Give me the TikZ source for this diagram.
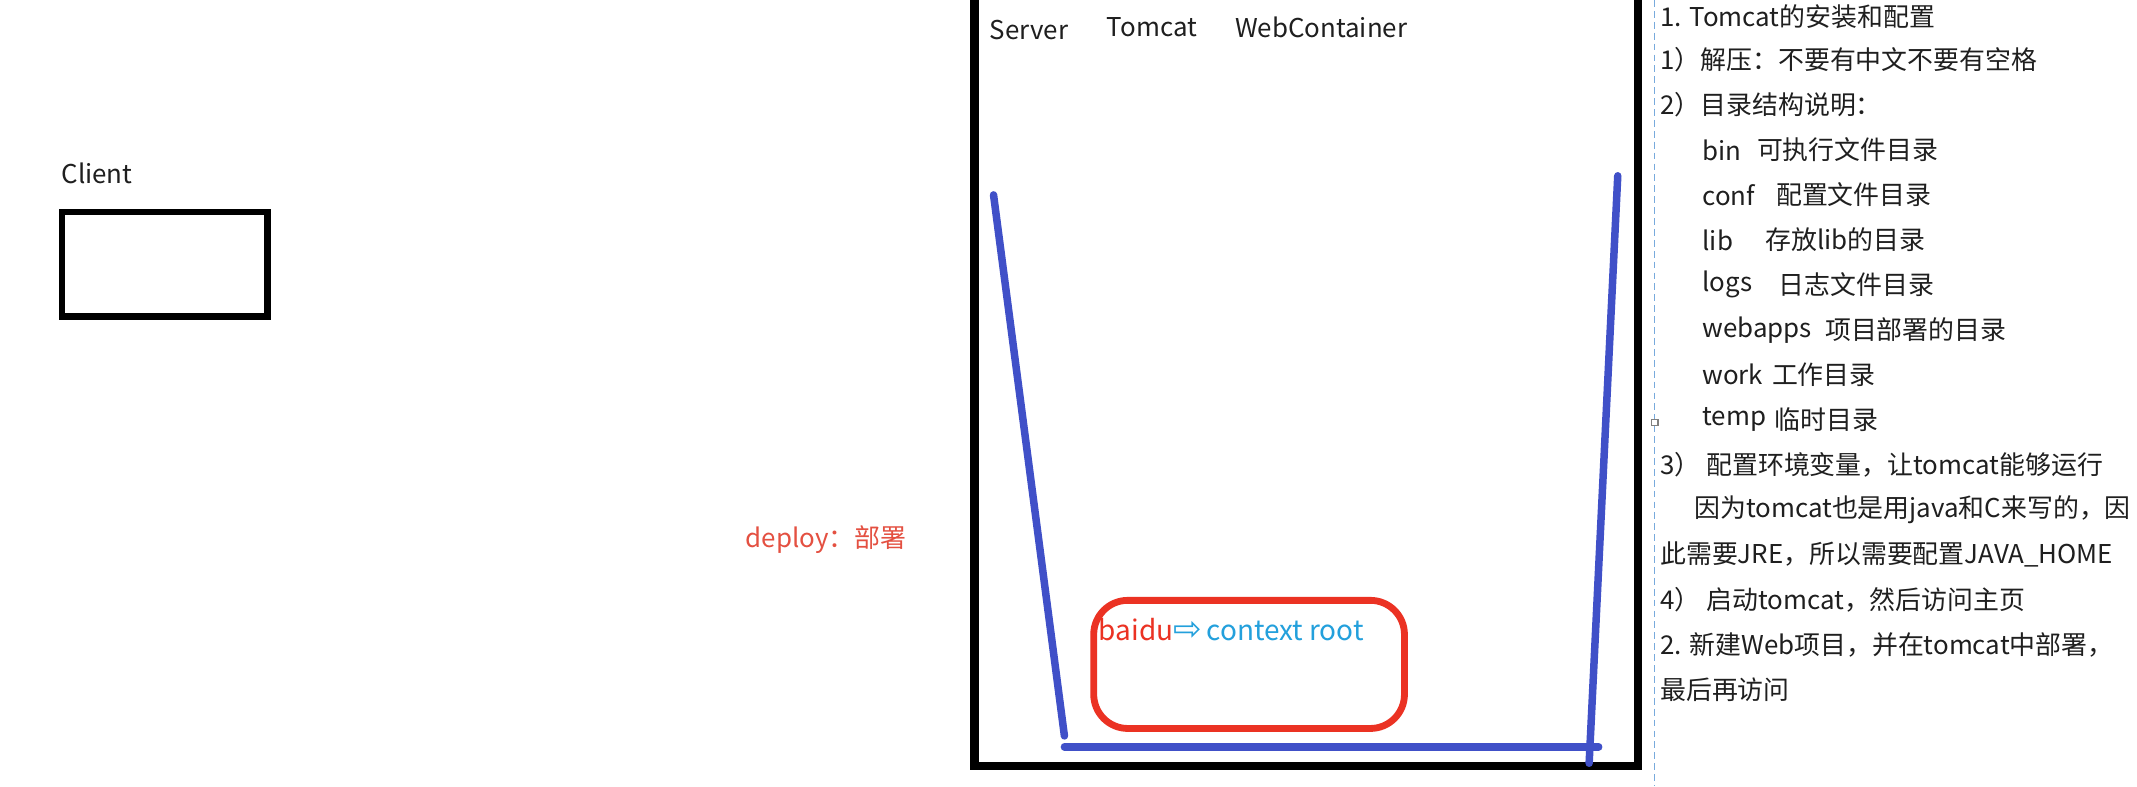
\documentclass[tikz,border=0pt]{standalone}
\usepackage{fontspec}
\setmainfont{Noto Sans CJK SC}
\newfontfamily\arrowfont{DejaVu Sans}
\usepackage{tikz}
\definecolor{penblue}{RGB}{64,80,200}
\definecolor{penred}{RGB}{235,50,35}
\definecolor{deployred}{RGB}{228,80,65}
\definecolor{rootcyan}{RGB}{35,160,220}
\definecolor{guideblue}{RGB}{120,170,220}
\tikzset{
	txt/.style={anchor=west, inner sep=0pt, font=\fontsize{19}{23}\selectfont, text=black!88},
	penline/.style={line width=5.5pt, color=penblue, line cap=round}
}

\begin{document}
\begin{tikzpicture}[x=1pt, y=-1pt]
		%%%%% START %%%%%
		\useasboundingbox (0, 0) rectangle (1568, 577);
		\clip (0, 0) rectangle (1568, 577);
		\fill[white] (0, 0) rectangle (1568, 577);
		
		% client
		\node[txt] (clientlabel) at (45, 127) {Client};
		\draw[line width=5pt] (45.5, 155.5) rectangle (196.5, 232.5);
		
		\node[txt, text=deployred] (deploy) at (547, 396) {deploy：部署};
		
		% server box
		\draw[line width=6pt] (715, -20) rectangle (1202, 562);
		\node[txt] (server) at (726, 22) {Server};
		\node[txt] (tomcat) at (812, 20) {Tomcat};
		\node[txt] (container) at (906, 20) {WebContainer};
		
		\draw[penline] (729, 143) -- (781, 540);
		\draw[penline] (781, 548) -- (1173, 548);
		\draw[penline] (1187, 129) -- (1166, 560);
		
		\draw[line width=5pt, color=penred, rounded corners=25pt] (802.5, 440.5) rectangle (1030.5, 534.5);
		\node[txt, font=\fontsize{20.5}{24}\selectfont] (root) at (806, 462) {\textcolor{penred}{baidu}\textcolor{rootcyan}{{\arrowfont\fontsize{25}{24}\selectfont ⇨}\,context root}};
		
		% notes
		\draw[guideblue, line width=1pt, dash pattern=on 5pt off 3pt] (1214, 0) -- (1214, 577);
		\draw[fill=white, draw=gray, line width=0.8pt] (1211.5, 307.5) rectangle (1216.5, 312.5);
		
		\node[txt] (n1) at (1218, 12) {1. Tomcat的安装和配置};
		\node[txt] (n2) at (1218, 44) {1）解压：不要有中文不要有空格};
		\node[txt] (n3) at (1218, 77) {2）目录结构说明：};
		\node[txt] (bin) at (1249, 110) {bin};
		\node[txt] (bindesc) at (1289, 110) {可执行文件目录};
		\node[txt] (conf) at (1249, 143) {conf};
		\node[txt] (confdesc) at (1303, 143) {配置文件目录};
		\node[txt] (lib) at (1249, 176) {lib};
		\node[txt] (libdesc) at (1295, 176) {存放lib的目录};
		\node[txt] (logs) at (1249, 209) {logs};
		\node[txt] (logsdesc) at (1305, 209) {日志文件目录};
		\node[txt] (webapps) at (1249, 242) {webapps};
		\node[txt] (webappsdesc) at (1339, 242) {项目部署的目录};
		\node[txt] (work) at (1249, 275) {work};
		\node[txt] (workdesc) at (1300, 275) {工作目录};
		\node[txt] (temp) at (1249, 308) {temp};
		\node[txt] (tempdesc) at (1302, 308) {临时目录};
		\node[txt] (n4) at (1218, 341) {3） 配置环境变量，让tomcat能够运行};
		\node[txt] (n5) at (1243, 374) {因为tomcat也是用java和C来写的，因};
		\node[txt] (n6) at (1218, 407) {此需要JRE，所以需要配置JAVA\_HOME};
		\node[txt] (n7) at (1218, 440) {4） 启动tomcat，然后访问主页};
		\node[txt] (n8) at (1218, 473) {2. 新建Web项目，并在tomcat中部署，};
		\node[txt] (n9) at (1218, 506) {最后再访问};
		%%%%% END %%%%%
\end{tikzpicture}
\end{document}
